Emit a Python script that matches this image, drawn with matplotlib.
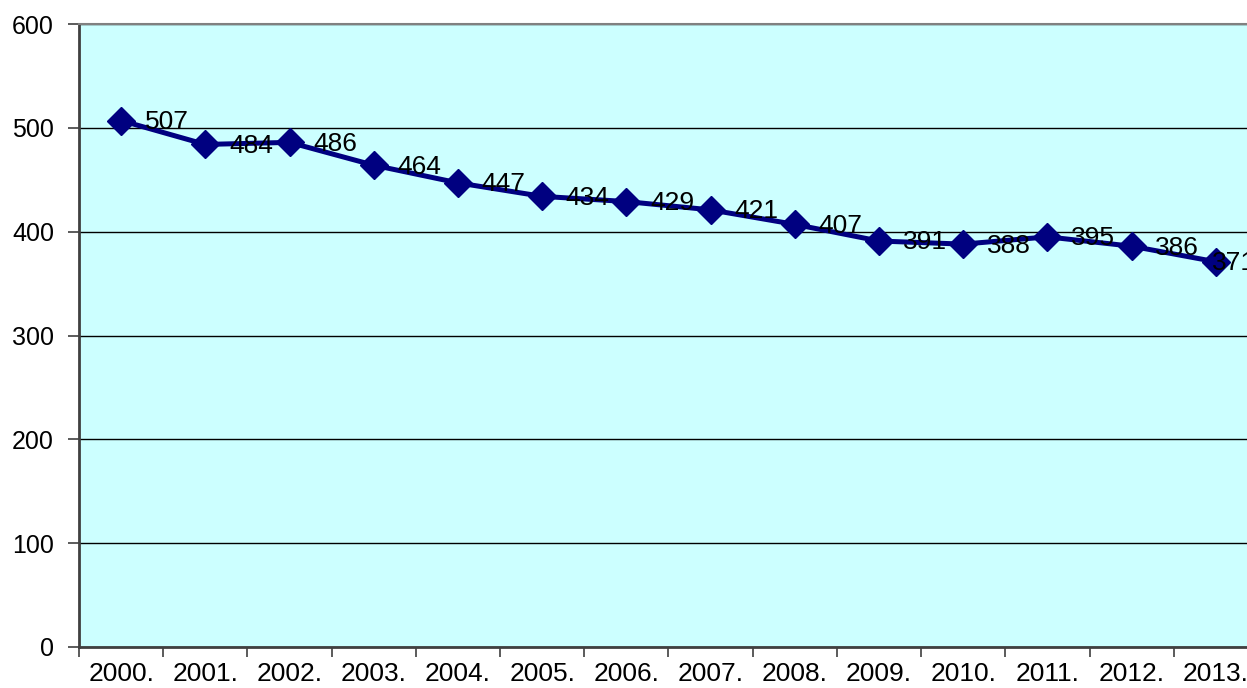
import matplotlib
matplotlib.use("Agg")
import matplotlib.pyplot as plt
import numpy as np

years = ["2000.", "2001.", "2002.", "2003.", "2004.", "2005.", "2006.",
         "2007.", "2008.", "2009.", "2010.", "2011.", "2012.", "2013."]
values = [507, 484, 486, 464, 447, 434, 429, 421, 407, 391, 388, 395, 386, 371]

plt.rcParams["font.family"] = ["Liberation Sans", "DejaVu Sans"]

fig = plt.figure(figsize=(12.47, 6.88), dpi=100)
# plot area runs past the right edge, like the cropped original
ax = fig.add_axes([79 / 1247, 41 / 688, 1179 / 1247, 623 / 688])
ax.set_facecolor("#ccffff")

x = np.arange(len(years))
ax.plot(x, values, color="#000080", lw=3.6, marker="D", ms=14, zorder=3)

for xi, v in zip(x, values):
    # last label sits on its marker, as in the original
    dx = 17 if xi < len(years) - 1 else -3
    ax.annotate(str(v), (xi, v), xytext=(dx, -1), textcoords="offset points",
                ha="left", va="center", fontsize=19, color="black",
                annotation_clip=False, zorder=4)

ax.set_xlim(-0.5, len(years) - 0.5)
ax.set_ylim(0, 600)
ax.set_yticks(range(0, 601, 100))
ax.yaxis.grid(True, color="black", lw=1)
ax.set_axisbelow(True)

ax.set_xticks(x)
ax.set_xticklabels(years)
ax.set_xticks(np.arange(-0.5, len(years), 1), minor=True)
ax.tick_params(axis="x", which="major", length=0, pad=11, labelsize=19)
ax.tick_params(axis="x", which="minor", length=7, width=1.2, color="#404040")
ax.tick_params(axis="y", length=8, width=1.2, color="#404040", pad=10, labelsize=18)

for side in ["left", "bottom"]:
    ax.spines[side].set_color("#404040")
    ax.spines[side].set_linewidth(2)
ax.spines["top"].set_color("#808080")
ax.spines["top"].set_linewidth(1.5)
ax.spines["right"].set_visible(False)

fig.savefig("out.png", dpi=100)
